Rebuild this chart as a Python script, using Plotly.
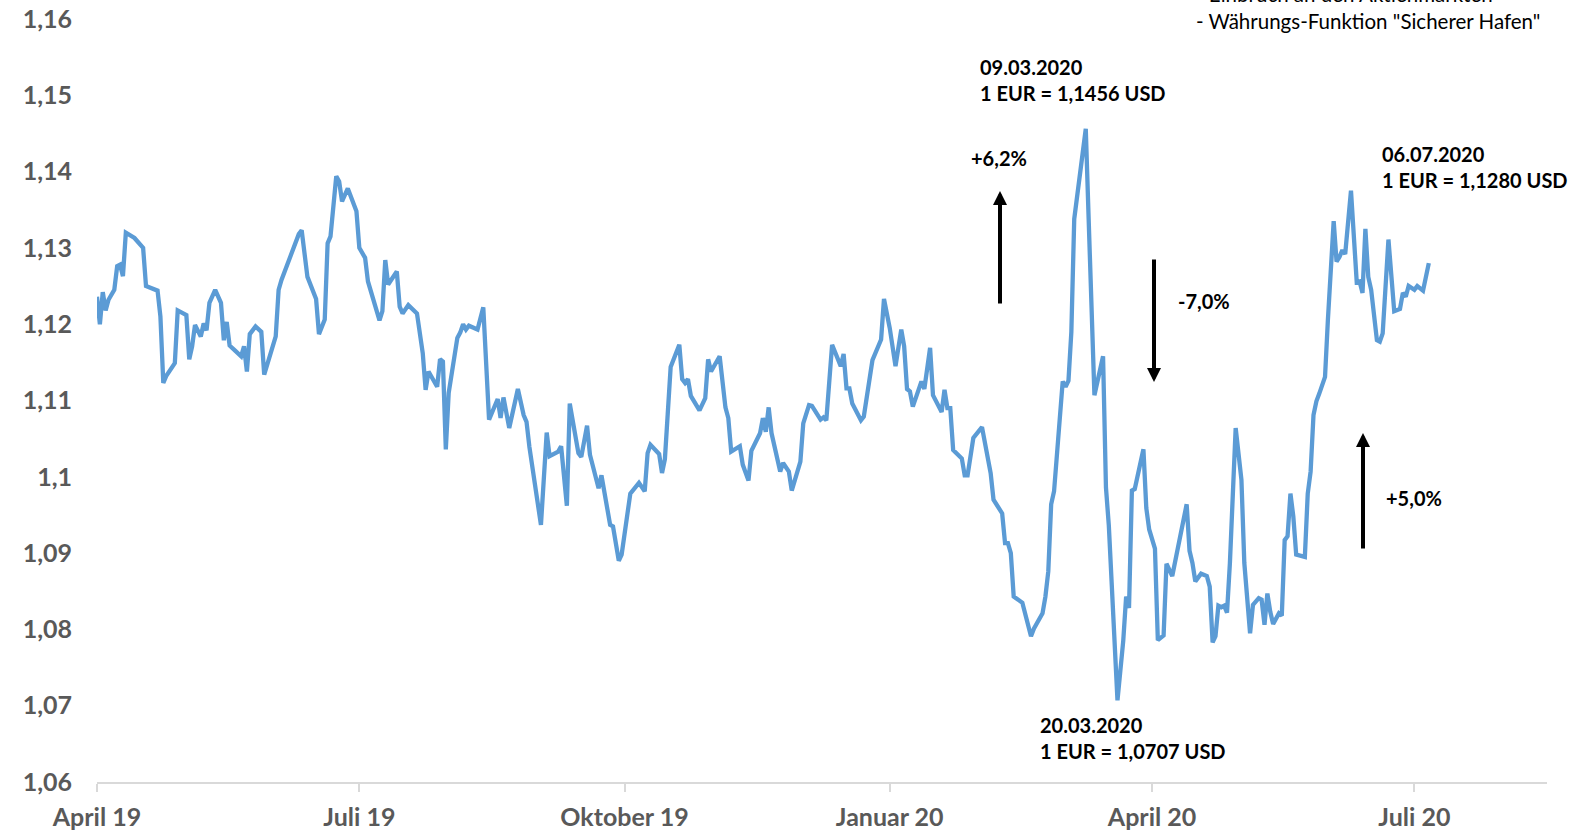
import datetime as dt
import plotly.graph_objects as go

# ---- data ----
start_date = dt.date(2019, 4, 1)
# offsets in days from 01.04.2019
day_offset = [
    0, 1, 2, 3, 4, 6, 7, 8, 9, 10, 13, 16, 17, 21, 22, 23, 24, 27, 28, 31,
    32, 33, 34, 36, 37, 38, 39, 41, 43, 44, 45, 46, 48, 50, 51, 52, 53, 55, 57, 58,
    62, 63, 64, 68, 70, 71, 73, 76, 77, 79, 80, 81, 83, 84, 85, 87, 90, 91, 93, 94,
    98, 99, 100, 101, 104, 105, 106, 108, 111, 113, 114, 115, 118, 119, 120, 121, 122, 125, 126, 127,
    128, 129, 132, 134, 135, 136, 139, 140, 141, 143, 146, 148, 149, 150, 154, 156, 157, 160, 161, 163,
    164, 167, 168, 170, 171, 174, 175, 178, 179, 181, 182, 185, 188, 190, 191, 192, 195, 196, 197, 199,
    202, 203, 204, 205, 206, 209, 211, 212, 213, 216, 218, 219, 220, 223, 224, 226, 227, 230, 231, 232,
    233, 234, 237, 238, 240, 241, 244, 245, 247, 248, 251, 252, 253, 255, 258, 259, 260, 261, 262, 265,
    266, 269, 272, 273, 275, 277, 279, 280, 281, 282, 283, 286, 287, 289, 290, 293, 294, 295, 296, 297,
    300, 301, 302, 304, 307, 310, 311, 314, 315, 316, 317, 318, 321, 324, 325, 328, 329, 330, 331, 332,
    335, 336, 337, 338, 339, 343, 344, 346, 349, 350, 351, 354, 356, 357, 358, 359, 360, 363, 364, 365,
    367, 368, 370, 371, 373, 378, 379, 380, 381, 383, 385, 386, 387, 388, 389, 390, 391, 392, 393, 395,
    397, 398, 400, 401, 403, 404, 405, 406, 407, 408, 410, 411, 412, 413, 414, 415, 416, 419, 420, 421,
    422, 423, 424, 426, 427, 429, 430, 431, 432, 433, 435, 437, 438, 439, 440, 441, 442, 444, 445, 446,
    448, 450, 452, 453, 454, 455, 457, 458, 460, 462,
]
eur_usd = [
    1.1236, 1.1200, 1.1242, 1.1218, 1.1232, 1.1245, 1.1276, 1.1278, 1.1263, 1.1320, 1.1313, 1.1300, 1.1250, 1.1244, 1.1210, 1.1123, 1.1132, 1.1149, 1.1218, 1.1212,
    1.1154, 1.1171, 1.1199, 1.1184, 1.1201, 1.1192, 1.1228, 1.1245, 1.1228, 1.1179, 1.1203, 1.1172, 1.1165, 1.1158, 1.1171, 1.1138, 1.1187, 1.1197, 1.1190, 1.1134,
    1.1184, 1.1245, 1.1258, 1.1297, 1.1318, 1.1323, 1.1262, 1.1233, 1.1187, 1.1206, 1.1306, 1.1315, 1.1394, 1.1387, 1.1361, 1.1378, 1.1348, 1.1300, 1.1287, 1.1256,
    1.1205, 1.1217, 1.1284, 1.1252, 1.1269, 1.1223, 1.1214, 1.1225, 1.1214, 1.1162, 1.1114, 1.1138, 1.1118, 1.1154, 1.1151, 1.1036, 1.1110, 1.1182, 1.1189, 1.1200,
    1.1193, 1.1198, 1.1193, 1.1222, 1.1149, 1.1075, 1.1102, 1.1077, 1.1104, 1.1064, 1.1115, 1.1081, 1.1072, 1.1039, 1.0937, 1.1058, 1.1027, 1.1033, 1.1040, 1.0962,
    1.1096, 1.1031, 1.1026, 1.1067, 1.1029, 1.0985, 1.1002, 1.0937, 1.0935, 1.0890, 1.0898, 1.0978, 1.0992, 1.0981, 1.1031, 1.1042, 1.1030, 1.1005, 1.1023, 1.1144,
    1.1173, 1.1128, 1.1123, 1.1128, 1.1106, 1.1087, 1.1103, 1.1154, 1.1138, 1.1158, 1.1091, 1.1077, 1.1033, 1.1040, 1.1016, 1.0995, 1.1034, 1.1057, 1.1077, 1.1059,
    1.1091, 1.1057, 1.1007, 1.1018, 1.1007, 1.0982, 1.1020, 1.1070, 1.1094, 1.1093, 1.1075, 1.1078, 1.1074, 1.1173, 1.1145, 1.1161, 1.1116, 1.1116, 1.1096, 1.1074,
    1.1079, 1.1153, 1.1180, 1.1233, 1.1195, 1.1145, 1.1193, 1.1171, 1.1115, 1.1112, 1.1092, 1.1125, 1.1115, 1.1169, 1.1107, 1.1085, 1.1114, 1.1090, 1.1090, 1.1035,
    1.1024, 1.1002, 1.1002, 1.1051, 1.1065, 1.1005, 1.0970, 1.0952, 1.0913, 1.0913, 1.0900, 1.0843, 1.0835, 1.0791, 1.0801, 1.0821, 1.0843, 1.0876, 1.0964, 1.0981,
    1.1125, 1.1118, 1.1126, 1.1190, 1.1338, 1.1456, 1.1338, 1.1107, 1.1158, 1.0986, 1.0936, 1.0707, 1.0785, 1.0843, 1.0828, 1.0982, 1.0984, 1.1036, 1.0959, 1.0931,
    1.0906, 1.0786, 1.0792, 1.0886, 1.0870, 1.0964, 1.0903, 1.0887, 1.0863, 1.0873, 1.0870, 1.0856, 1.0783, 1.0791, 1.0831, 1.0829, 1.0831, 1.0822, 1.0887, 1.1064,
    1.0996, 1.0887, 1.0795, 1.0832, 1.0841, 1.0839, 1.0806, 1.0847, 1.0823, 1.0807, 1.0821, 1.0818, 1.0917, 1.0922, 1.0978, 1.0948, 1.0898, 1.0895, 1.0978, 1.1007,
    1.1081, 1.1099, 1.1109, 1.1131, 1.1206, 1.1335, 1.1282, 1.1288, 1.1297, 1.1292, 1.1375, 1.1255, 1.1256, 1.1241, 1.1325, 1.1262, 1.1245, 1.1179, 1.1177, 1.1188,
    1.1311, 1.1217, 1.1220, 1.1241, 1.1236, 1.1250, 1.1245, 1.1250, 1.1244, 1.1280,
]

x_tick_dates = ["2019-04-01", "2019-07-01", "2019-10-01", "2020-01-01", "2020-04-01", "2020-07-01"]
x_tick_labels = ["April 19", "Juli 19", "Oktober 19", "Januar 20", "April 20", "Juli 20"]
y_tick_vals = [1.06, 1.07, 1.08, 1.09, 1.10, 1.11, 1.12, 1.13, 1.14, 1.15, 1.16]
y_tick_labels = ["1,06", "1,07", "1,08", "1,09", "1,1", "1,11", "1,12", "1,13", "1,14", "1,15", "1,16"]

dates = [start_date + dt.timedelta(days=d) for d in day_offset]

# ---- layout geometry (pixels); page body margin is removed below ----
W, H = 1582, 832
L, R, T, B = 97, 35, 19, 50
PW, PH = W - L - R, H - T - B


def px(xp):
    """page x pixel -> paper fraction"""
    return (xp - L) / PW


def py(yp):
    """page y pixel -> paper fraction"""
    return (H - B - yp) / PH


FONT = "Lato"
GRAY = "#595959"

fig = go.Figure()
fig.add_trace(go.Scatter(
    x=dates, y=eur_usd, mode="lines",
    line=dict(color="#5B9BD5", width=4.3),
    hoverinfo="skip", showlegend=False,
))

annotations = []


def text_ann(x, y, text, size=20, bold=True):
    annotations.append(dict(
        x=px(x), y=py(y), xref="paper", yref="paper", xanchor="left", yanchor="middle",
        text=text, showarrow=False, align="left",
        font=dict(family=FONT, size=size, color="#000000", weight=700 if bold else 400),
    ))


def arrow_ann(x, y_tip, y_tail):
    annotations.append(dict(
        x=px(x), y=py(y_tip), xref="paper", yref="paper", text="",
        showarrow=True, ax=0, ay=y_tail - y_tip, axref="pixel", ayref="pixel",
        arrowhead=2, arrowsize=0.7, arrowwidth=4, arrowcolor="#000000", standoff=0,
    ))


text_ann(978, 79.8, "09.03.2020<br>1 EUR = 1,1456 USD")
text_ann(1380, 166.8, "06.07.2020<br>1 EUR = 1,1280 USD")
text_ann(1038, 738, "20.03.2020<br>1 EUR = 1,0707 USD")
text_ann(968.6, 158.4, "+6,2%")
text_ann(1175.5, 300.7, "-7,0%")
text_ann(1384, 498.4, "+5,0%")
# top-right note; its first line is mostly cut off at the top edge as in the reference
text_ann(1194, -6.5, "- Einbruch an den Aktienmärkten", size=20.5, bold=False)
text_ann(1194, 21.5, "- Währungs-Funktion \"Sicherer Hafen\"", size=20.5, bold=False)

arrow_ann(1000, 191, 305)
arrow_ann(1154, 382, 258)
arrow_ann(1363, 433, 550)

fig.update_layout(
    width=W, height=H, autosize=False,
    margin=dict(l=L, r=R, t=T, b=B, pad=0, autoexpand=False),
    paper_bgcolor="white", plot_bgcolor="white",
    font=dict(family=FONT),
    annotations=annotations,
    xaxis=dict(
        type="date", range=["2019-04-01", "2020-08-16"],
        tickvals=x_tick_dates, ticktext=x_tick_labels,
        showgrid=False, zeroline=False, automargin=False,
        showline=True, linecolor="#d9d9d9", linewidth=2,
        ticks="outside", ticklen=8, tickwidth=2, tickcolor="#d9d9d9",
        tickfont=dict(family=FONT, size=25, color=GRAY, weight=700),
        ticklabelstandoff=4, ticklabeloverflow="allow",
    ),
    yaxis=dict(
        range=[1.06, 1.16], tickvals=y_tick_vals, ticktext=y_tick_labels,
        showgrid=False, zeroline=False, showline=False, ticks="", automargin=False,
        tickfont=dict(family=FONT, size=25, color=GRAY, weight=700),
        ticklabelstandoff=24, ticklabeloverflow="allow",
    ),
)

fig.write_html(
    "out.html",
    config={"displayModeBar": False, "staticPlot": True},
    post_script="document.body.style.margin='0';document.body.style.overflow='hidden';",
)
